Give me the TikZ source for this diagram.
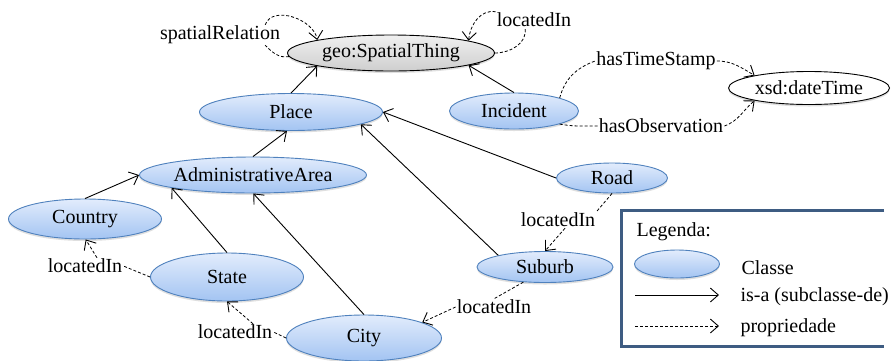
\documentclass[tikz,border=0pt]{standalone}
\usepackage{fontspec}
\setmainfont{Liberation Serif}
\usepackage{tikz}
\usetikzlibrary{arrows.meta,shapes.geometric,shadows}

\definecolor{clsTop}{RGB}{226,236,252}
\definecolor{clsBot}{RGB}{163,196,242}
\definecolor{clsLine}{RGB}{79,129,189}
\definecolor{legLine}{RGB}{62,92,130}

\begin{document}
\begin{tikzpicture}[
        x=1pt,
        y=-1pt,
        font=\fontsize{20}{24}\selectfont,
        cls/.style={ellipse, draw=clsLine, line width=0.9pt, top color=clsTop, bottom color=clsBot, inner sep=0pt,
            drop shadow={shadow xshift=0pt, shadow yshift=-2pt, opacity=0.25}},
        thing/.style={ellipse, draw=black, line width=0.9pt, top color=gray!12, bottom color=gray!38, inner sep=0pt,
            drop shadow={shadow xshift=0pt, shadow yshift=-2pt, opacity=0.25}},
        lit/.style={ellipse, draw=black, line width=0.9pt, fill=white, inner sep=0pt,
            drop shadow={shadow xshift=0pt, shadow yshift=-2pt, opacity=0.25}},
        lbl/.style={inner sep=1pt},
        isa/.style={->, line width=0.9pt},
        prop/.style={line width=0.8pt, dash pattern=on 3pt off 2pt},
        >={Straight Barb[length=8pt, width=14pt, line width=0.9pt]}
    ]
        \fill[white] (0,0) rectangle (891,360);
        \useasboundingbox (0,0) rectangle (891,360);

        \node[thing, minimum width=207, minimum height=36] (geo) at (391,53) {geo:SpatialThing};
        \node[cls, minimum width=183, minimum height=37] (place) at (291,112) {Place};
        \node[cls, minimum width=129, minimum height=36] (incident) at (514,111) {Incident};
        \node[lit, minimum width=161, minimum height=33] (xsd) at (809,88) {xsd:dateTime};
        \node[cls, minimum width=227, minimum height=36] (admin) at (253,175) {AdministrativeArea};
        \node[cls, minimum width=153, minimum height=40] (country) at (85,219) {Country};
        \node[cls, minimum width=153, minimum height=48] (state) at (227,277) {State};
        \node[cls, minimum width=155, minimum height=46] (city) at (364,338) {City};
        \node[cls, minimum width=111, minimum height=30] (road) at (612,178) {Road};
        \node[cls, minimum width=136, minimum height=31] (suburb) at (545,267) {Suburb};

        \draw[isa] (place.north) -- (geo.190);
        \draw[isa] (incident.north) -- (geo.-9);
        \draw[isa] (admin.north) -- (place.258);
        \draw[isa] (road.west) -- (place.east);
        \draw[isa] (suburb.166) -- (place.-10);
        \draw[isa] (country.north) -- (admin.west);
        \draw[isa] (state.north) -- (admin.189);
        \draw[isa] (city.north) -- (admin.-89);

        \node[lbl] (spRel) at (220,35) {spatialRelation};
        \draw[prop] (geo.182) to[out=190, in=-45] ([xshift=-16pt]spRel.south east);
        \draw[prop, ->] ([xshift=-16pt]spRel.north east) to[out=70, in=100] (geo.170);

        \node[lbl] (locGeo) at (534,20) {locatedIn};
        \draw[prop] (geo.east) to[out=0, in=-80] ([xshift=-9pt]locGeo.south);
        \draw[prop, ->] (locGeo.north west) to[out=170, in=85] (geo.9);

        \node[lbl] (timeSt) at (656,61) {hasTimeStamp};
        \draw[prop] (incident.16) to[out=75, in=200] (timeSt.west);
        \draw[prop, ->] (timeSt.east) to[out=0, in=150] (xsd.167);

        \node[lbl] (observ) at (661,126) {hasObservation};
        \draw[prop] (incident.-16) to[out=-10, in=180] (observ.west);
        \draw[prop, ->] (observ.east) to[out=20, in=-140] (xsd.-167);

        \node[lbl] (locRoad) at (558,220) {locatedIn};
        \draw[prop] (road.south) -- (locRoad.north east);
        \draw[prop, ->] ([xshift=7pt]locRoad.south) -- (suburb.north);

        \node[lbl] (locSub) at (494,307) {locatedIn};
        \draw[prop] (suburb.-145) -- (locSub.north);
        \draw[prop, ->] (locSub.west) -- (city.15);

        \node[lbl] (locState) at (85,266) {locatedIn};
        \draw[prop] (state.west) -- (locState.east);
        \draw[prop, ->] ([xshift=12pt]locState.north) -- (country.-88);

        \node[lbl] (locCity) at (235,332) {locatedIn};
        \draw[prop] (city.west) -- (locCity.east);
        \draw[prop, ->] ([xshift=18pt]locCity.north) -- (state.south);

        \draw[legLine, line width=3pt] (884,210) -- (621,210) -- (621,346) -- (884,346);
        \node[anchor=west] (legTitle) at (633,232) {Legenda:};
        \node[cls, minimum width=85, minimum height=28] (legCls) at (677,264) {};
        \node[anchor=west] (legClsTxt) at (738,268) {Classe};
        \coordinate (isaA) at (635,295);
        \coordinate (isaB) at (719,295);
        \draw[isa] (isaA) -- (isaB);
        \node[anchor=west] (legIsa) at (737,297) {is-a (subclasse-de)};
        \coordinate (propA) at (635,326);
        \coordinate (propB) at (719,326);
        \draw[prop, ->] (propA) -- (propB);
        \node[anchor=west] (legProp) at (737,328) {propriedade};
    \end{tikzpicture}
\end{document}
